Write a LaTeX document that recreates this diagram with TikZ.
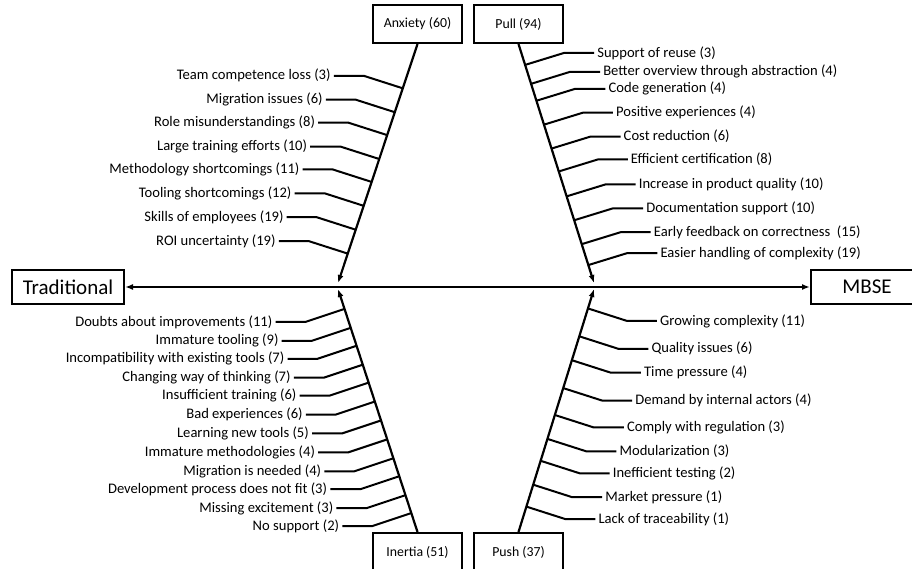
\documentclass[tikz,border=0pt]{standalone}
\usepackage{fontspec}
\setmainfont{Carlito}
\usetikzlibrary{arrows.meta, calc, positioning}

\begin{document}
\begin{tikzpicture}[
    x=1pt, y=-1pt,
    box/.style={draw, line width=2pt, minimum width=89pt, minimum height=38pt, inner sep=2pt, font=\fontsize{13.8}{16}\selectfont},
    endbox/.style={draw, line width=2pt, minimum width=112pt, minimum height=34pt, font=\fontsize{21}{25}\selectfont},
    factor/.style={inner sep=3pt, font=\fontsize{14.6}{17}\selectfont},
    spine/.style={line width=2.2pt, -{Latex[length=8pt,width=6pt]}},
    rib/.style={line width=2pt}
]
    \useasboundingbox (0,0) rectangle (912,569);
    \clip (0,0) rectangle (912,569);

    % the two ends
    \node[endbox] (trad) at (68,287) {Traditional};
    \node[endbox] (mbse) at (867,287) {MBSE};
    \draw[line width=2.2pt, {Latex[length=8pt,width=6pt]}-{Latex[length=8pt,width=6pt]}] (trad) -- (mbse);

    % the four forces
    \node[box] (anxiety) at (417.5,24) {Anxiety (60)};
    \node[box] (pull) at (518.5,24) {Pull (94)};
    \node[box] (inertia) at (417.5,552) {Inertia (51)};
    \node[box] (push) at (518.5,552) {Push (37)};

    \coordinate (anxtip) at (338,283);
    \coordinate (pulltip) at (594,283);
    \coordinate (inertiatip) at (338,289);
    \coordinate (pushtip) at (594,289);

    \draw[spine] (anxiety.south) -- (anxtip);
    \draw[spine] (pull.south) -- (pulltip);
    \draw[spine] (inertia.north) -- (inertiatip);
    \draw[spine] (push.north) -- (pushtip);

    % anxiety
    \foreach \yy/\txt [count=\i, evaluate=\yy as \tpos using (\yy+12.5-43)/240] in {
        75/Team competence loss (3), 99/Migration issues (6), 122/Role misunderstandings (8),
        146/Large training efforts (10), 169/Methodology shortcomings (11), 193/Tooling shortcomings (12),
        217/Skills of employees (19), 241/ROI uncertainty (19)} {
        \coordinate (a\i) at ($(anxiety.south)!\tpos!(anxtip)$);
        \node[factor, anchor=east] (fa\i) at ($(a\i)+(-69,-12.5)$) {\txt};
        \draw[rib] (fa\i.east) -- ++(30,0) -- (a\i);
    }

    % pull
    \foreach \yy/\txt [count=\i, evaluate=\yy as \tpos using (\yy+12-43)/240] in {
        52/Support of reuse (3), 71/Better overview through abstraction (4), 88/Code generation (4),
        112/Positive experiences (4), 136/Cost reduction (6), 159/Efficient certification (8),
        184/Increase in product quality (10), 208/Documentation support (10),
        232/Early feedback on correctness\ \ (15), 253/Easier handling of complexity (19)} {
        \coordinate (p\i) at ($(pull.south)!\tpos!(pulltip)$);
        \node[factor, anchor=west] (fp\i) at ($(p\i)+(69,-12)$) {\txt};
        \draw[rib] (fp\i.west) -- ++(-30,0) -- (p\i);
    }

    % inertia
    \foreach \yy/\txt [count=\i, evaluate=\yy as \tpos using (546-\yy)/244] in {
        322/Doubts about improvements (11), 341/Immature tooling (9), 359/Incompatibility with existing tools (7),
        378/Changing way of thinking (7), 396/Insufficient training (6), 415/Bad experiences (6),
        434/Learning new tools (5), 453/Immature methodologies (4), 472/Migration is needed (4),
        490/Development process does not fit (3), 509/Missing excitement (3), 527/No support (2)} {
        \coordinate (n\i) at ($(inertia.north)!\tpos!(inertiatip)$);
        \node[factor, anchor=east] (fn\i) at ($(n\i)+(-69,13)$) {\txt};
        \draw[rib] (fn\i.east) -- ++(30,0) -- (n\i);
    }

    % push
    \foreach \yy/\txt [count=\i, evaluate=\yy as \tpos using (545.5-\yy)/244] in {
        321/Growing complexity (11), 349/Quality issues (6), 373/Time pressure (4),
        401/Demand by internal actors (4), 428/Comply with regulation (3), 452/Modularization (3),
        474/Inefficient testing (2), 498/Market pressure (1), 520/Lack of traceability (1)} {
        \coordinate (q\i) at ($(push.north)!\tpos!(pushtip)$);
        \node[factor, anchor=west] (fq\i) at ($(q\i)+(69,12.5)$) {\txt};
        \draw[rib] (fq\i.west) -- ++(-30,0) -- (q\i);
    }
\end{tikzpicture}
\end{document}
